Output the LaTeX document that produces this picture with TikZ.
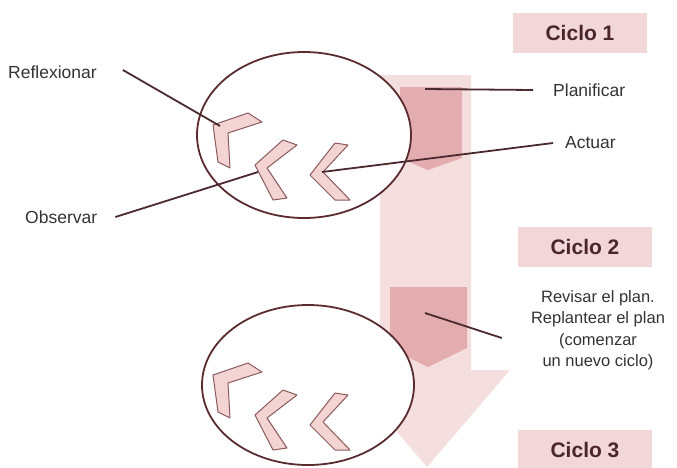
\documentclass[tikz,border=0pt]{standalone}
\usepackage{fontspec}
\setmainfont{Liberation Sans}
\usepackage{tikz}
\definecolor{shaftpink}{HTML}{F4DEDE}
\definecolor{darkpink}{HTML}{E3ACAF}
\definecolor{boxpink}{HTML}{F2D7D9}
\definecolor{chevpink}{HTML}{F4D3D3}
\definecolor{chevline}{HTML}{8A5A5C}
\definecolor{ringline}{HTML}{5A2C30}
\definecolor{leadline}{HTML}{4A2A2E}
\definecolor{labeltxt}{HTML}{333333}
\definecolor{cyctxt}{HTML}{4A262C}

\begin{document}
\begin{tikzpicture}[x=1pt,y=-1pt,every node/.style={font=\fontsize{17.5}{21}\selectfont,text=labeltxt,inner sep=0pt},
  cyc/.style={fill=boxpink,minimum width=134pt,minimum height=40pt,font=\fontsize{21}{25}\selectfont\bfseries,text=cyctxt},
  chev/.style={fill=chevpink,draw=chevline,line width=1pt,line join=round},
  ring/.style={fill=white,draw=ringline,line width=1.8pt},
  lead/.style={draw=leadline,line width=1.8pt}]
\useasboundingbox (0,0) rectangle (677,467);
% big arrow and the two plan blocks
\fill[shaftpink] (380,75)--(471,75)--(471,370)--(510,370)--(427,467)--(344,370)--(380,370)--cycle;
\fill[darkpink] (400,87)--(462,87)--(462,158)--(428,170)--(400,158)--cycle;
\fill[darkpink] (390,287)--(467,287)--(467,348)--(428,367)--(390,348)--cycle;
% cycles
\draw[ring] (304,135) ellipse [x radius=107pt,y radius=83pt];
\draw[ring] (308,385) ellipse [x radius=106pt,y radius=80pt];
\foreach \dy in {0,250} {
  \draw[chev,shift={(0,\dy)}] (213,125)--(248,113)--(262,122)--(228,133)--(230,168)--(218,162)--cycle;
  \draw[chev,shift={(0,\dy)}] (255,165)--(283,140)--(297,145)--(267,168)--(287,198)--(273,200)--cycle;
  \draw[chev,shift={(0,\dy)}] (310,175)--(335,143)--(348,145)--(323,172)--(350,200)--(335,200)--cycle;
}
\coordinate (r1) at (220,126);
\coordinate (o1) at (258,172);
\coordinate (a1) at (322,172);
\coordinate (p1) at (425,89);
\coordinate (p2) at (425,313);
% labels
\node[anchor=west] (refl) at (8,72) {Reflexionar};
\node[anchor=west] (obs) at (25,217) {Observar};
\node[anchor=west] (plan) at (553,90) {Planificar};
\node[anchor=west] (act) at (565,143) {Actuar};
\node[align=center,font=\fontsize{16.5}{21.5}\selectfont] (rev) at (598,330) {Revisar el plan.\\Replantear el plan\\(comenzar\\un nuevo ciclo)};
\node[cyc] (c1) at (580,33) {Ciclo 1};
\node[cyc] (c2) at (585,247) {Ciclo 2};
\node[cyc] (c3) at (585,450) {Ciclo 3};
\draw[lead] ([xshift=26pt,yshift=2pt]refl.east)--(r1);
\draw[lead] ([xshift=18pt]obs.east)--(o1);
\draw[lead] ([xshift=-20pt]plan.west)--(p1);
\draw[lead] ([xshift=-12pt]act.west)--(a1);
\draw[lead] ([xshift=-29pt,yshift=-8pt]rev.west)--(p2);
\end{tikzpicture}
\end{document}
